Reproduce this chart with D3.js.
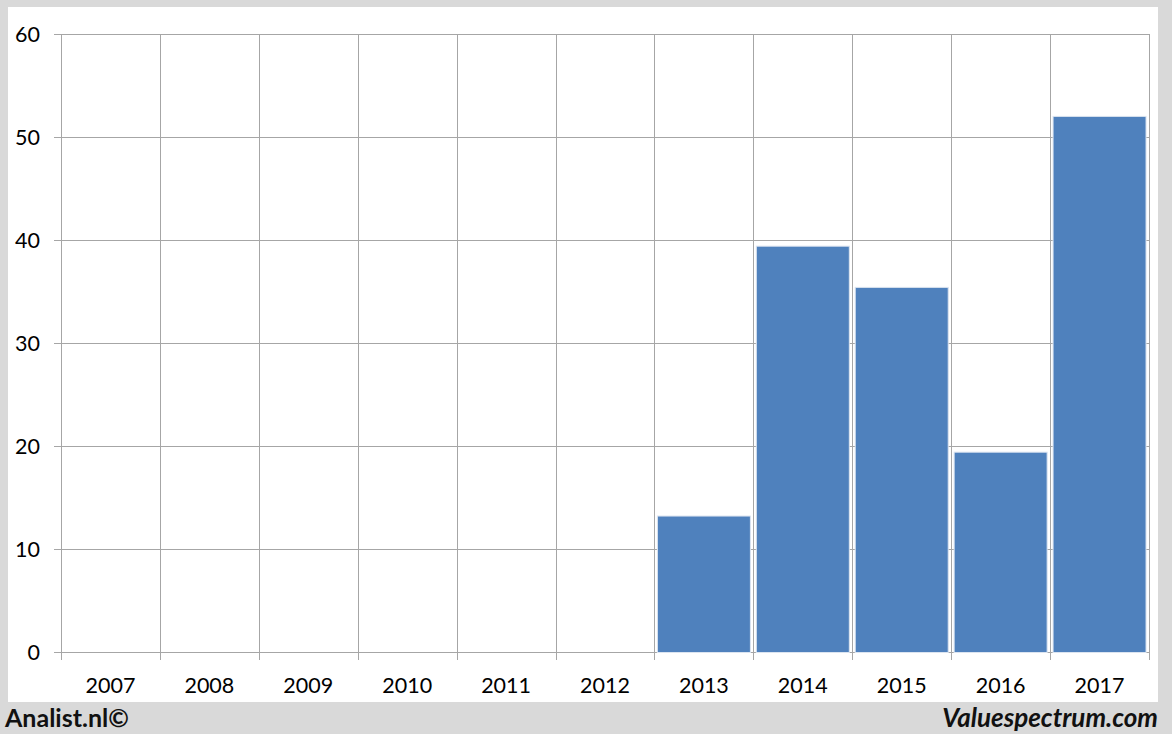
<!DOCTYPE html>
<html><head><meta charset="utf-8">
<script src="https://cdn.jsdelivr.net/npm/d3@7"></script>
<style>body{margin:0;background:#d9d9d9;}svg{display:block;}</style>
</head><body><svg id="c" width="1172" height="734"></svg>
<script>
const categories = ["2007","2008","2009","2010","2011","2012","2013","2014","2015","2016","2017"];
const values = [null,null,null,null,null,null,13.2,39.4,35.4,19.4,52.0];
const yTicks = [0,10,20,30,40,50,60];

const svg = d3.select("#c");
const font = "Lato, 'Open Sans', sans-serif";
svg.append("rect").attr("width",1172).attr("height",734).attr("fill","#d9d9d9");
svg.append("rect").attr("x",8).attr("y",7).attr("width",1150).attr("height",695).attr("fill","#fff");

const x = d3.scaleBand().domain(categories).range([61,1149]).paddingInner(0.06).paddingOuter(0.03);
const xl = d3.scaleBand().domain(categories).range([61,1149]);
const y = d3.scaleLinear().domain([0,60]).range([652,34]);
const grid = "#a6a6a6";

// horizontal gridlines with left tick extension
svg.append("g").selectAll("line").data(yTicks).join("line")
  .attr("x1",54).attr("x2",1149).attr("y1",d=>y(d)+0.5).attr("y2",d=>y(d)+0.5)
  .attr("stroke",grid).attr("stroke-width",1);
// vertical gridlines at category boundaries
const bounds = categories.map(c=>xl(c)).concat([xl.range()[1]]);
svg.append("g").selectAll("line").data(bounds).join("line")
  .attr("x1",d=>Math.round(d)+0.5).attr("x2",d=>Math.round(d)+0.5).attr("y1",34).attr("y2",660)
  .attr("stroke",grid).attr("stroke-width",1);

// y labels
svg.append("g").selectAll("text").data(yTicks).join("text")
  .attr("x",40).attr("y",d=>y(d)+7.5).attr("text-anchor","end")
  .attr("font-family",font).attr("font-size",21.5).attr("fill","#000").text(d=>d);
// x labels
svg.append("g").selectAll("text").data(categories).join("text")
  .attr("x",d=>xl(d)+xl.bandwidth()/2).attr("y",693).attr("text-anchor","middle")
  .attr("font-family",font).attr("font-size",21.5).attr("fill","#000").text(d=>d);

// bars
svg.append("g").selectAll("rect").data(categories.map((c,i)=>({c,v:values[i]})).filter(d=>d.v!=null))
  .join("rect")
  .attr("x",d=>x(d.c)).attr("width",x.bandwidth())
  .attr("y",d=>y(d.v)).attr("height",d=>y(0)-y(d.v)+0.5)
  .attr("fill","#4f81bd").attr("stroke","#dbe4f0").attr("stroke-width",1);

// footer
svg.append("text").attr("x",5).attr("y",727).attr("font-family",font).attr("font-weight","bold")
  .attr("font-size",25).attr("fill","#111").text("Analist.nl©");
svg.append("text").attr("x",1158).attr("y",727).attr("text-anchor","end").attr("font-family",font)
  .attr("font-weight","bold").attr("font-style","italic").attr("font-size",26).attr("fill","#111").text("Valuespectrum.com");
</script></body></html>
